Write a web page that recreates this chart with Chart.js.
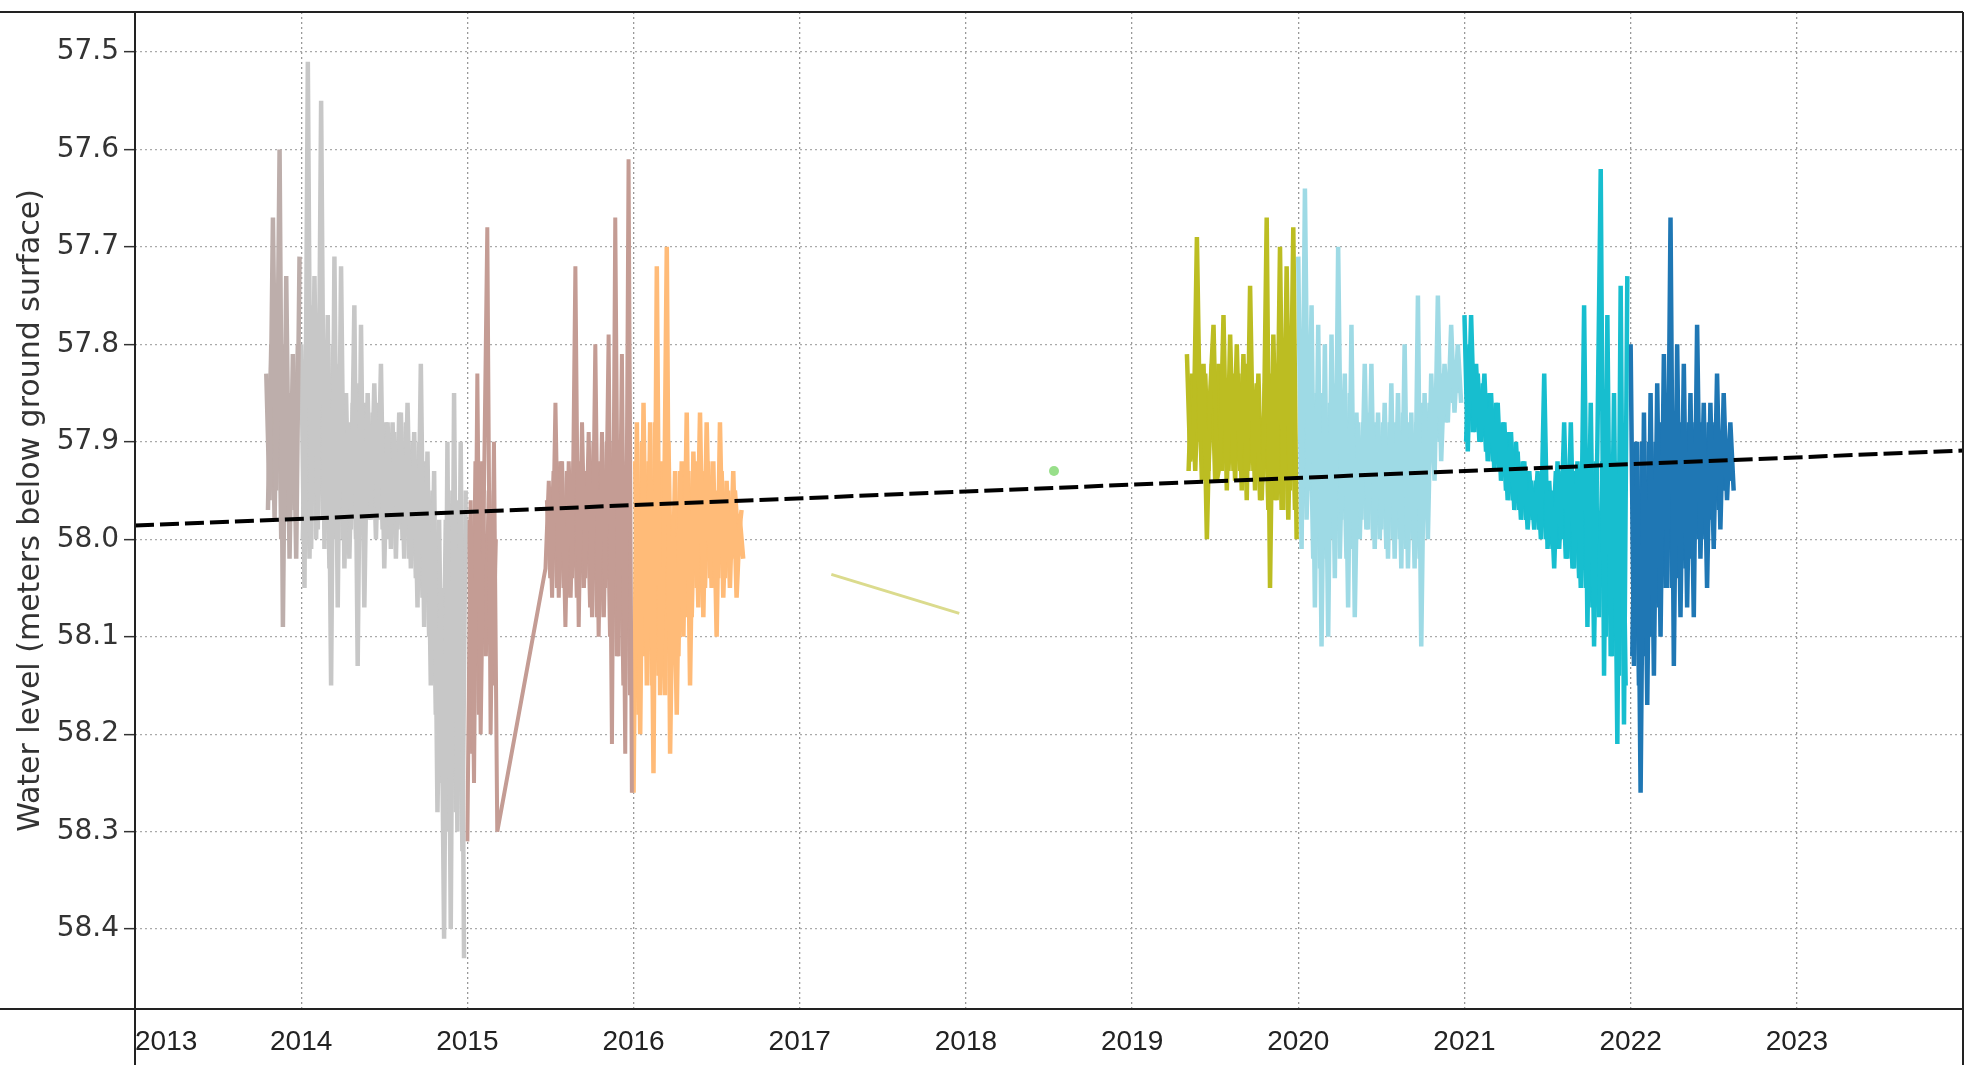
<!DOCTYPE html>
<html>
<head>
<meta charset="utf-8">
<script src="https://cdn.jsdelivr.net/npm/chart.js@4.4.1/dist/chart.umd.min.js"></script>
<style>
html,body{margin:0;padding:0;background:#fff;overflow:hidden}
#c{display:block}
</style>
</head>
<body>
<canvas id="c" width="1977" height="1065"></canvas>
<script>
// ---- tick labels ----
const yTickValues = [57.5, 57.6, 57.7, 57.8, 57.9, 58.0, 58.1, 58.2, 58.3, 58.4];
const xTickYears = [2013, 2014, 2015, 2016, 2017, 2018, 2019, 2020, 2021, 2022, 2023];
const axisTitleY = 'Water level (meters below ground surface)';

// ---- sampling interval of the logger series (decimal years) ----
const sampleStep = 0.02;

// ---- water-level series (meters below ground surface), one per year ----
// "values" = readings of the spikes / envelope, "core" = readings of the dense band,
// sampled half a step later.
const start2013 = 2013.79;
const values2013 = [57.83, 57.96, 57.67, 57.95, 57.60, 58.09, 57.73, 58.02, 57.81, 58.02, 57.71];
const core2013 = [57.97, 57.80, 57.98, 57.75, 58.00, 57.80, 57.98, 57.85, 57.97, 57.80];

const start2014 = 2014.00;
const values2014 = [57.80, 58.05, 57.51, 58.01, 57.73, 57.99, 57.55, 58.01, 57.77, 58.15,
                    57.71, 58.07, 57.72, 58.03, 57.88, 57.99, 57.76, 58.13, 57.78, 58.07,
                    57.85, 57.98, 57.84, 57.98, 57.82, 58.03, 57.88, 58.01, 57.89, 57.99,
                    57.87, 58.02, 57.86, 58.03, 57.89, 58.07, 57.82, 58.09, 57.91, 58.15,
                    57.93, 58.28, 58.05, 58.41, 57.90, 58.40, 57.85, 58.30, 57.90, 58.43];
const core2014 = [58.00, 57.80, 58.02, 57.76, 58.00, 57.80, 57.98, 57.82, 58.03, 57.80,
                  58.00, 57.82, 58.00, 57.85, 58.02, 57.86, 58.00, 57.84, 57.99, 57.86,
                  57.98, 57.87, 58.00, 57.86, 57.99, 57.88, 58.00, 57.88, 58.02, 57.87,
                  58.00, 57.88, 58.02, 57.90, 58.04, 57.90, 58.06, 57.92, 58.10, 57.95,
                  58.18, 57.98, 58.25, 57.98, 58.30, 57.95, 58.28, 57.96, 58.32, 57.95];

const start2015a = 2015.00;
const values2015a = [58.31, 57.96, 58.25, 57.83, 58.20, 57.95, 57.68, 58.20, 57.90, 58.30];
const core2015a = [57.98, 58.22, 57.92, 58.18, 57.92, 58.12, 57.95, 58.15, 58.00];
const start2015b = 2015.47;
const values2015b = [58.03, 57.94, 58.06, 57.86, 58.06, 57.92, 58.09, 57.92, 58.04, 57.72,
                     58.09, 57.88, 58.04, 57.89, 58.08, 57.80, 58.10, 57.89, 58.05, 57.79,
                     58.21, 57.67, 58.12, 57.81, 58.22, 57.61, 58.26];
const core2015b = [57.96, 58.04, 57.93, 58.05, 57.92, 58.05, 57.93, 58.06, 57.92, 58.06,
                   57.92, 58.05, 57.93, 58.07, 57.90, 58.08, 57.92, 58.08, 57.90, 58.10,
                   57.90, 58.12, 57.90, 58.15, 57.92, 58.16];

const start2016 = 2016.00;
const values2016 = [58.26, 57.88, 58.20, 57.86, 58.15, 57.88, 58.24, 57.72, 58.16, 58.05,
                    57.70, 58.22, 57.98, 58.18, 57.93, 58.10, 57.87, 58.15, 57.91, 58.05,
                    57.87, 58.08, 57.88, 58.04, 57.92, 58.10, 57.88, 58.06, 57.94, 58.05,
                    57.93, 58.06, 57.98, 58.02];
const core2016 = [57.92, 58.18, 57.90, 58.12, 57.92, 58.15, 57.88, 58.14, 57.92, 58.16,
                  57.90, 58.10, 57.93, 58.12, 57.92, 58.08, 57.93, 58.08, 57.92, 58.07,
                  57.93, 58.05, 57.92, 58.05, 57.95, 58.04, 57.93, 58.04, 57.95, 58.02,
                  57.95, 58.00, 57.97];

const years2017 = [2017.19, 2017.96];
const values2017 = [58.036, 58.076];

const years2018 = [2018.53];
const values2018 = [57.93];

const start2019 = 2019.33;
const values2019 = [57.81, 57.92, 57.90, 57.69, 57.90, 57.82, 58.00, 57.85, 57.78, 57.94,
                    57.92, 57.77, 57.95, 57.79, 57.93, 57.80, 57.93, 57.81, 57.96, 57.74,
                    57.93, 57.84, 57.96, 57.93, 57.67, 58.05, 57.79, 57.96, 57.70, 57.97,
                    57.72, 57.95, 57.68, 58.00];
const core2019 = [57.93, 57.83, 57.93, 57.82, 57.94, 57.83, 57.93, 57.82, 57.94, 57.82,
                  57.93, 57.84, 57.93, 57.83, 57.94, 57.83, 57.95, 57.82, 57.93, 57.84,
                  57.95, 57.83, 57.96, 57.84, 57.97, 57.83, 57.96, 57.82, 57.97, 57.80,
                  57.98, 57.80, 57.97];

const start2020 = 2020.00;
const values2020 = [57.71, 58.01, 57.64, 57.95, 57.76, 58.07, 57.78, 58.11, 57.80, 58.10,
                    57.79, 58.04, 57.70, 57.98, 57.83, 58.07, 57.78, 58.08, 57.88, 57.98,
                    57.82, 57.99, 57.82, 58.01, 57.87, 57.99, 57.86, 58.02, 57.84, 58.02,
                    57.85, 58.03, 57.80, 58.03, 57.87, 58.03, 57.75, 58.11, 57.85, 58.00,
                    57.83, 57.94, 57.75, 57.92, 57.82, 57.88, 57.78, 57.87, 57.80, 57.86];
const core2020 = [57.90, 57.80, 57.98, 57.84, 58.02, 57.85, 58.03, 57.85, 58.02, 57.86,
                  58.00, 57.84, 58.02, 57.86, 58.02, 57.85, 58.01, 57.87, 58.00, 57.88,
                  57.99, 57.87, 58.00, 57.88, 58.00, 57.88, 58.01, 57.88, 58.00, 57.88,
                  58.00, 57.87, 58.01, 57.88, 58.00, 57.88, 58.02, 57.86, 57.97, 57.86,
                  57.92, 57.84, 57.90, 57.83, 57.88, 57.83, 57.86, 57.82, 57.85];

const start2021 = 2021.00;
const values2021 = [57.77, 57.91, 57.77, 57.89, 57.83, 57.90, 57.83, 57.92, 57.85, 57.93,
                    57.86, 57.94, 57.88, 57.96, 57.89, 57.97, 57.91, 57.98, 57.92, 57.99,
                    57.94, 57.99, 57.93, 58.00, 57.83, 58.01, 57.95, 58.03, 57.92, 58.00,
                    57.88, 58.02, 57.88, 58.03, 57.92, 58.05, 57.76, 58.09, 57.86, 58.11,
                    57.90, 57.62, 58.14, 57.77, 58.12, 57.85, 58.21, 57.74, 58.19, 57.73];
const core2021 = [57.90, 57.80, 57.89, 57.82, 57.90, 57.84, 57.91, 57.85, 57.92, 57.86,
                  57.93, 57.88, 57.95, 57.89, 57.96, 57.90, 57.97, 57.92, 57.98, 57.93,
                  57.98, 57.94, 57.99, 57.93, 58.00, 57.94, 58.01, 57.93, 58.01, 57.93,
                  58.02, 57.93, 58.03, 57.93, 58.04, 57.92, 58.05, 57.92, 58.07, 57.92,
                  58.08, 57.92, 58.10, 57.92, 58.12, 57.92, 58.14, 57.90, 58.15];

const start2022 = 2022.00;
const values2022 = [57.80, 58.13, 57.90, 58.26, 57.87, 58.17, 57.85, 58.14, 57.84, 58.10,
                    57.81, 58.05, 57.67, 58.13, 57.80, 58.08, 57.82, 58.07, 57.85, 58.08,
                    57.78, 58.02, 57.86, 58.05, 57.86, 58.01, 57.83, 57.99, 57.85, 57.96,
                    57.88, 57.95];
const core2022 = [58.12, 57.90, 58.15, 57.90, 58.12, 57.90, 58.10, 57.90, 58.07, 57.88,
                  58.05, 57.90, 58.05, 57.88, 58.04, 57.88, 58.03, 57.88, 58.02, 57.88,
                  58.00, 57.88, 58.00, 57.88, 57.98, 57.88, 57.97, 57.89, 57.95, 57.90,
                  57.94];

// ---- linear trend ----
const trendYears = [2013, 2024];
const trendValues = [57.986, 57.909];

// ---- helpers that turn the arrays into {x, y} points ----
function sampled(startYear, values) {
  return values.map((v, i) => ({ x: startYear + i * sampleStep, y: v }));
}
function paired(years, values) {
  return values.map((v, i) => ({ x: years[i], y: v }));
}
const half = sampleStep / 2;

function yearLine(data, color, width, order) {
  return {
    data: data, borderColor: color, backgroundColor: color,
    borderWidth: width || 4.5, pointRadius: 0, tension: 0,
    borderJoinStyle: 'bevel', borderCapStyle: 'butt', fill: false, order: order || 1
  };
}

const datasets = [
  {
    data: paired(trendYears, trendValues), borderColor: '#000', borderWidth: 4,
    borderDash: [19, 6], pointRadius: 0, fill: false, order: 0
  },
  yearLine(sampled(start2013 + half, core2013), '#bdaeab', 4.5, 2),
  yearLine(sampled(start2013, values2013), '#bdaeab'),
  yearLine(sampled(start2014 + half, core2014), '#c7c7c7', 4.5, 2),
  yearLine(sampled(start2014, values2014), '#c7c7c7'),
  yearLine(sampled(start2015a + half, core2015a), '#c49c94', 4.5, 2),
  yearLine(sampled(start2015b + half, core2015b), '#c49c94', 4.5, 2),
  yearLine(sampled(start2015a, values2015a).concat(sampled(start2015b, values2015b)), '#c49c94', 4),
  yearLine(sampled(start2016 + half, core2016), '#ffbb78', 4.5, 2),
  yearLine(sampled(start2016, values2016), '#ffbb78'),
  yearLine(paired(years2017, values2017), '#dbdb8d', 3),
  {
    data: paired(years2018, values2018), showLine: false, pointRadius: 5,
    pointBackgroundColor: '#98df8a', pointBorderWidth: 0, borderColor: '#98df8a', order: 1
  },
  yearLine(sampled(start2019 + half, core2019), '#bcbd22', 4.5, 2),
  yearLine(sampled(start2019, values2019), '#bcbd22'),
  yearLine(sampled(start2020 + half, core2020), '#9edae5', 4.5, 2),
  yearLine(sampled(start2020, values2020), '#9edae5'),
  yearLine(sampled(start2021 + half, core2021), '#17becf', 4.5, 2),
  yearLine(sampled(start2021, values2021), '#17becf'),
  yearLine(sampled(start2022 + half, core2022), '#1f77b4', 4.5, 2),
  yearLine(sampled(start2022, values2022), '#1f77b4')
];

const framePlugin = {
  id: 'frame',
  afterDraw(chart) {
    const { ctx, chartArea: a, width, height } = chart;
    ctx.save();
    ctx.strokeStyle = '#222';
    ctx.lineWidth = 2;
    ctx.beginPath();
    ctx.moveTo(0, a.top); ctx.lineTo(a.right, a.top);
    ctx.moveTo(0, a.bottom); ctx.lineTo(a.right, a.bottom);
    ctx.moveTo(a.left, a.top); ctx.lineTo(a.left, height);
    ctx.moveTo(a.right, a.top); ctx.lineTo(a.right, height);
    ctx.stroke();
    ctx.restore();
  }
};

new Chart(document.getElementById('c'), {
  type: 'line',
  data: { datasets: datasets },
  plugins: [framePlugin],
  options: {
    responsive: false,
    animation: false,
    devicePixelRatio: 1,
    layout: { padding: { top: 12, right: 14, left: 0, bottom: 0 } },
    plugins: { legend: { display: false }, tooltip: { enabled: false } },
    scales: {
      x: {
        type: 'linear',
        min: 2013, max: 2024,
        afterBuildTicks: (s) => { s.ticks = xTickYears.concat([2024]).map(v => ({ value: v })); },
        afterFit: (s) => { s.height = 56; s.paddingLeft = 0; s.paddingRight = 0; },
        ticks: {
          callback: (v) => (xTickYears.includes(v) ? String(v) : ''),
          align: 'inner', autoSkip: false, maxRotation: 0,
          font: { family: 'Liberation Sans', size: 28 }, color: '#222', padding: 16
        },
        grid: { color: '#999', lineWidth: 1.3, drawTicks: false },
        border: { display: false, dash: [2, 3] }
      },
      y: {
        type: 'linear',
        reverse: true,
        min: 57.459, max: 58.482,
        afterBuildTicks: (s) => { s.ticks = yTickValues.map(v => ({ value: v })); },
        afterFit: (s) => { s.width = 135; s.paddingTop = 0; s.paddingBottom = 0; },
        ticks: {
          callback: (v) => Number(v).toFixed(1),
          font: { family: 'DejaVu Sans', size: 28 }, color: '#333', padding: 5
        },
        grid: {
          color: '#aaa', lineWidth: 1.3, drawTicks: true, tickLength: 11,
          tickColor: '#333', tickWidth: 1.5, tickBorderDash: []
        },
        border: { display: false, dash: [2, 3] },
        title: {
          display: true, text: axisTitleY,
          font: { family: 'DejaVu Sans', size: 30 }, color: '#333',
          padding: { top: 13, bottom: 0 }
        }
      }
    }
  }
});
</script>
</body>
</html>
